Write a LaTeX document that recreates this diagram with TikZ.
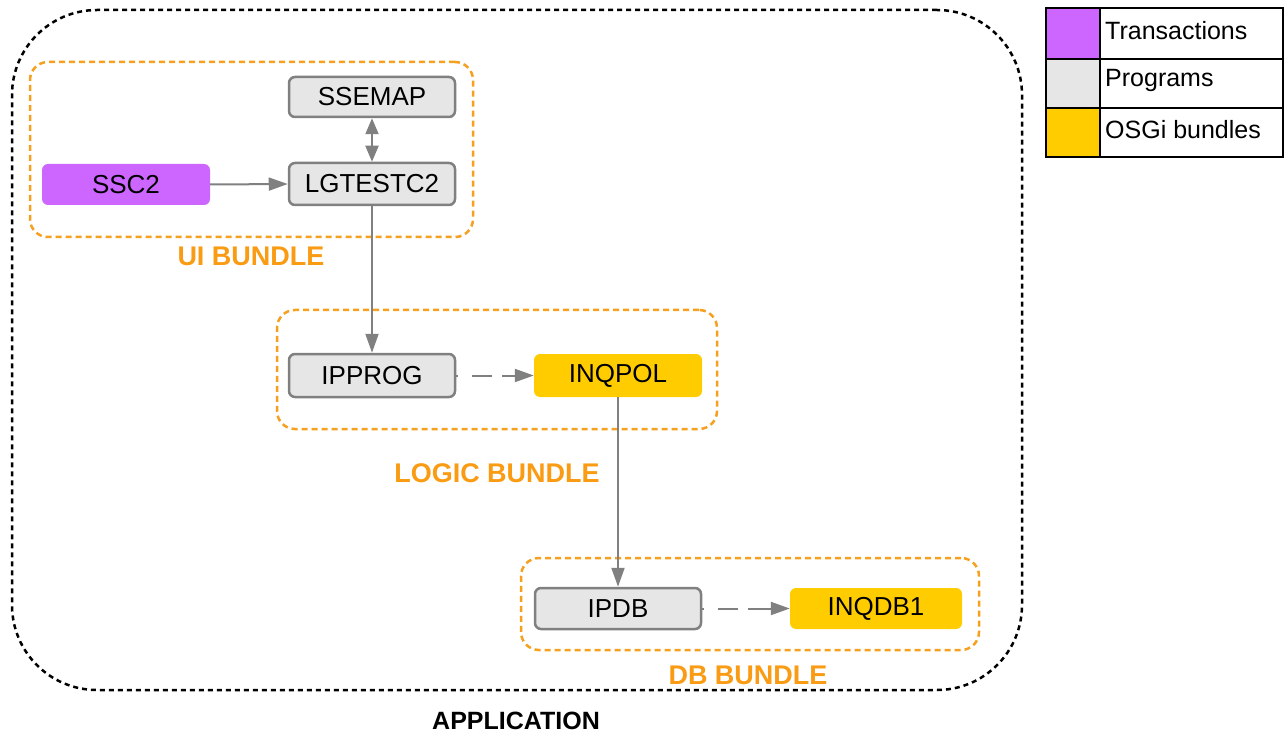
\documentclass[tikz,border=0pt]{standalone}
\usepackage{fontspec}
\setmainfont{Liberation Sans}
\usetikzlibrary{arrows.meta}
\definecolor{bndorange}{RGB}{245,160,30}
\definecolor{lblorange}{RGB}{250,155,20}
\definecolor{proggray}{RGB}{230,230,230}
\definecolor{bordgray}{RGB}{128,128,128}
\definecolor{transpurple}{RGB}{204,102,255}
\definecolor{osgiyellow}{RGB}{255,204,0}
\tikzset{
  prog/.style={draw=bordgray, line width=2.5pt, fill=proggray, rounded corners=6pt, font=\fontsize{26}{30}\selectfont, inner sep=0pt},
  trans/.style={fill=transpurple, rounded corners=6pt, font=\fontsize{26}{30}\selectfont, inner sep=0pt},
  osgi/.style={fill=osgiyellow, rounded corners=6pt, font=\fontsize{26}{30}\selectfont, inner sep=0pt},
  bundle/.style={draw=bndorange, line width=2.5pt, dash pattern=on 6pt off 4pt, rounded corners=18pt, inner sep=0pt},
  bundlelabel/.style={text=lblorange, font=\bfseries\fontsize{27}{30}\selectfont},
  conn/.style={draw=bordgray, line width=2pt, -{Triangle[length=19pt,width=13pt]}, color=bordgray},
  dconn/.style={conn, dash pattern=on 2pt off 14pt on 20pt off 10pt on 60pt},
  legcell/.style={draw=black, line width=1.5pt, inner sep=0pt},
  legtext/.style={font=\fontsize{25}{28}\selectfont, anchor=west, inner sep=0pt}
}
\begin{document}
\begin{tikzpicture}[x=1pt,y=-1pt]
\useasboundingbox (0,0) rectangle (1286,738);
% application boundary
\node (app) [draw=black, line width=2.5pt, dash pattern=on 5pt off 4pt, rounded corners=85pt, minimum width=1010pt, minimum height=680pt, inner sep=0pt] at (517,350) {};
\node (applbl) [font=\bfseries\fontsize{25}{28}\selectfont] at (516,721) {APPLICATION};
% bundles
\node (ui) [bundle, minimum width=443pt, minimum height=175pt] at (251.5,149.5) {};
\node (logic) [bundle, minimum width=440pt, minimum height=119pt] at (497,369.5) {};
\node (db) [bundle, minimum width=458pt, minimum height=92pt] at (750,604) {};
\node (uilbl) [bundlelabel] at (251,256) {UI BUNDLE};
\node (logiclbl) [bundlelabel] at (497,473) {LOGIC BUNDLE};
\node (dblbl) [bundlelabel] at (748,675) {DB BUNDLE};
% nodes
\node (ssemap) [prog, minimum width=166pt, minimum height=40pt] at (372,97) {SSEMAP};
\node (lgtest) [prog, minimum width=166pt, minimum height=42pt] at (372,184) {LGTESTC2};
\node (ssc2) [trans, minimum width=168pt, minimum height=41pt] at (126,184.5) {SSC2};
\node (ipprog) [prog, minimum width=166pt, minimum height=43pt] at (372,375.5) {IPPROG};
\node (inqpol) [osgi, minimum width=168pt, minimum height=43pt] at (618,375.5) {INQPOL};
\node (ipdb) [prog, minimum width=166pt, minimum height=41pt] at (618,608.5) {IPDB};
\node (inqdb1) [osgi, minimum width=172pt, minimum height=41pt] at (876,608.5) {INQDB1};
% connectors
\draw[conn] (ssc2.east) -- (lgtest.west);
\draw[conn, {Triangle[length=16pt,width=13pt]}-{Triangle[length=16pt,width=13pt]}] (lgtest.north) -- (ssemap.south);
\draw[conn] (lgtest.south) -- (ipprog.north);
\draw[dconn] (ipprog.east) -- (inqpol.west);
\draw[conn] (inqpol.south) -- (ipdb.north);
\draw[dconn] (ipdb.east) -- (inqdb1.west);
% legend
\node (sw1) [legcell, fill=transpurple, minimum width=54pt, minimum height=51pt] at (1073,33.5) {};
\node (sw2) [legcell, fill=proggray, minimum width=54pt, minimum height=49pt] at (1073,83.5) {};
\node (sw3) [legcell, fill=osgiyellow, minimum width=54pt, minimum height=49pt] at (1073,132.5) {};
\node (tx1) [legcell, minimum width=183pt, minimum height=51pt] at (1191.5,33.5) {};
\node (tx2) [legcell, minimum width=183pt, minimum height=49pt] at (1191.5,83.5) {};
\node (tx3) [legcell, minimum width=183pt, minimum height=49pt] at (1191.5,132.5) {};
\node (lt1) [legtext] at (1105,31) {Transactions};
\node (lt2) [legtext] at (1105,80) {Programs};
\node (lt3) [legtext] at (1105,130) {OSGi bundles};
\end{tikzpicture}
\end{document}
